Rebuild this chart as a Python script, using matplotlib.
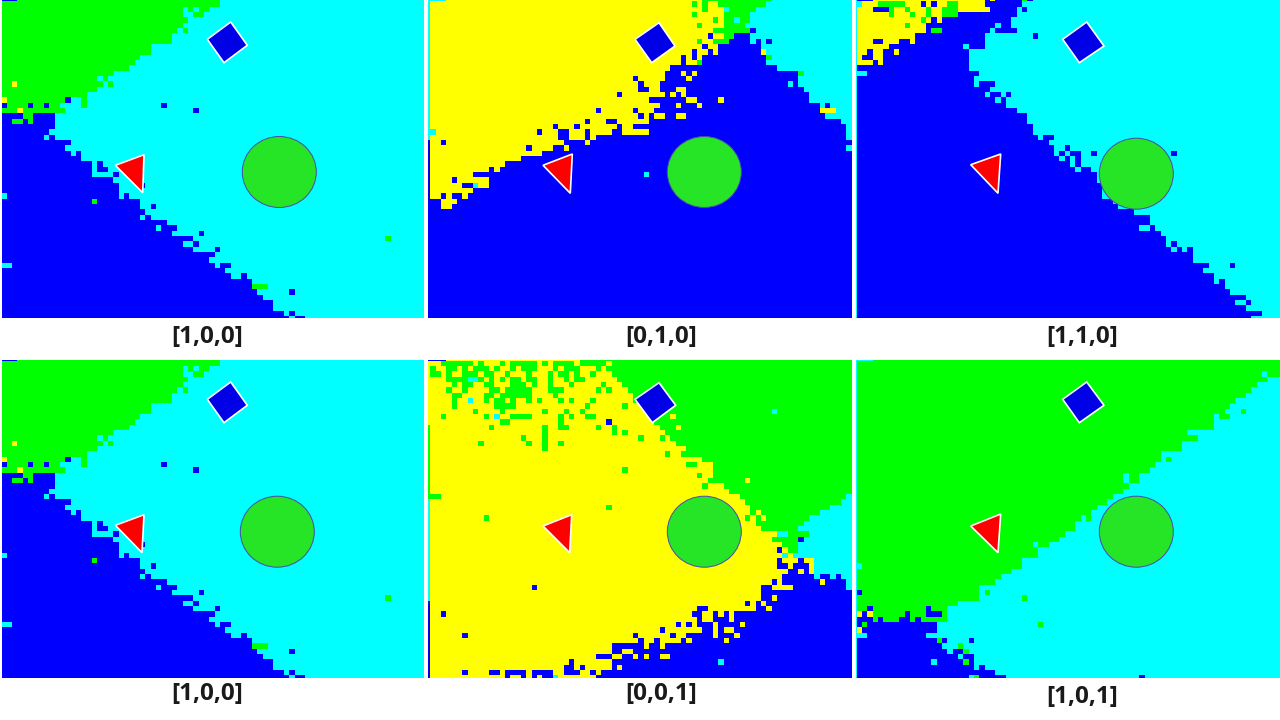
import numpy as np
import matplotlib
matplotlib.use("Agg")
import matplotlib.pyplot as plt
from matplotlib.colors import ListedColormap
from matplotlib.patches import Ellipse, Polygon, Rectangle

# each row: colour letter + column where that colour stops, last one runs to the edge
rows_100 = [
    "B3 G41 C", "G41 C", "G34 C35 G36 C37 G39 C", "G34 C36 G38 C", "G35 C", "G34 C", "G33 C34 G35 C", "G32 C",
    "G32 C", "G28 C", "G28 C", "G26 C", "G25 C", "G24 C", "G21 C", "G18 C19 G20 C", "G2 Y3 G19 C20 G21 C", "G18 C",
    "G16 C", "Y1 G12 B13 C15 G16 C", "B1 G5 B6 G8 B9 G11 C15 G16 C30 B31 C", "G3 Y4 G12 C36 B37 C", "B4 G6 B10 C",
    "B2 G4 B5 G6 B10 C", "B10 C", "B9 C", "B8 C9 B10 C", "B13 C", "B12 C", "B13 C14 B15 C", "B15 C", "B17 C18 B19 C",
    "B17 C18 B20 C", "B17 C21 B22 C", "B21 C", "B22 C26 B27 C", "B22 C", "C1 B22 C23 B24 C", "B17 G18 B26 C",
    "B26 C28 B29 C", "B27 C", "B26 C27 B28 C", "B31 C", "B29 C30 B33 C", "B32 C37 B38 C", "B36 C72 G73 C",
    "B34 C36 B37 C", "B36 C40 B41 C", "B40 C", "B39 C", "C2 B40 C41 B43 C", "B42 C", "B43 C45 B46 C", "B47 C",
    "B47 G50 C", "B48 C54 B55 C", "B49 C", "B51 C", "B51 C", "B53 C54 B55 C", "B54 C55 B57 C",
]
rows_010 = [
    "C4 Y52 G65 C", "C1 Y50 G51 Y52 G53 Y55 G64 C", "C1 Y52 G53 Y56 C57 G62 C", "C1 Y50 G51 Y56 G61 C",
    "C1 Y54 G55 Y56 G58 C59 G61 C", "C1 Y51 G52 Y56 G60 C", "C1 Y54 G61 B62 C", "C1 Y53 B54 Y56 G58 B61 C",
    "C1 Y51 G52 Y54 G57 B61 C62 B63 C64 B65 C", "C1 Y52 B53 Y55 B63 C", "C1 Y50 B51 Y53 B54 Y55 B63 Y64 C",
    "C1 Y48 B49 Y50 B51 Y52 B64 G65 C", "C1 Y48 B49 Y51 G52 B64 C", "C1 Y46 B66 C", "C1 Y45 B48 Y49 B50 Y51 B70 G71 C",
    "C1 Y39 B40 Y45 B49 Y50 B70 C", "C1 Y40 B41 Y44 B68 C69 B70 C", "C1 Y40 B42 Y44 B47 Y49 B71 C",
    "C1 Y36 B37 Y45 B46 Y47 B48 Y49 B72 C", "C1 Y42 B49 Y51 B55 Y56 B72 C", "C1 Y44 B47 Y48 B51 Y52 B74 C75 B76 C",
    "C1 Y32 B33 Y39 B40 Y43 B74 Y77 C", "C1 Y40 B41 Y42 B43 Y45 B47 Y49 B75 C", "C1 Y30 B31 Y34 B36 Y42 B78 C",
    "C1 Y24 B25 Y28 B29 Y36 B37 Y39 B79 C", "C2 Y21 B22 Y25 B27 Y30 B31 Y35 B37 Y42 B79 C",
    "C1 Y25 B27 Y30 B31 Y32 B79 C", "B1 Y3 B4 Y26 B30 Y31 B", "B1 Y19 B20 Y24 B26 Y27 B79 C", "B1 Y22 B", "B1 Y18 B",
    "B1 Y15 B", "B1 Y12 B13 Y14 B", "B1 Y9 B41 C42 B", "B1 Y5 B6 Y12 B", "B1 Y7 B9 C10 Y12 B", "B1 Y9 B",
    "B1 Y3 B4 Y5 B7 Y8 B", "B3 Y6 B", "B3 Y5 B", "B", "B", "B", "B", "B", "B", "B", "B", "B", "B", "B", "B", "B", "B",
    "B", "B", "B", "B", "B", "B", "B",
]
rows_110 = [
    "C1 B4 Y25 B26 Y27 B32 G33 B34 C", "C2 Y5 G10 Y13 B14 Y15 B16 Y18 G20 Y25 B32 C",
    "C1 Y4 B7 G8 Y10 G11 Y14 G15 Y17 G20 Y26 B31 C32 B33 C", "C1 Y7 G8 Y11 G12 Y14 G15 Y17 G20 B31 C",
    "C1 Y13 G14 Y15 B16 Y17 B30 C", "C1 Y10 G11 Y14 B27 C28 B30 C", "C1 Y14 B15 G17 B26 C27 B31 C", "C1 Y12 B25 C34 B35 C",
    "C1 Y4 B6 Y9 B11 Y12 B25 C", "C1 Y7 B21 C22 B25 C", "C1 Y3 B4 Y6 B8 Y9 B22 C", "C1 Y2 B4 Y6 B22 C",
    "C1 Y4 B5 Y6 B22 C", "C1 B22 C", "C3 B24 C", "C1 B23 C", "C1 B23 C24 B27 C", "C1 B26 C", "C1 B25 C26 B28 C29 B30 C",
    "C1 B27 C28 B29 C", "C1 B29 C", "C1 B31 C", "C1 B33 C", "C1 B33 C", "C1 B34 C", "C1 B34 C", "C1 B35 C36 B38 C",
    "C1 B37 C", "C1 B38 C40 B41 C", "C1 B38 C39 B40 C41 B43 C45 B46 C60 B61 C", "C1 B39 C40 B41 C42 B43 C",
    "C1 B41 C42 B43 C", "C1 B42 C43 B45 C", "C1 B46 C", "C1 B46 C", "C1 B47 C", "C1 B47 C", "C1 B47 C", "C1 B49 C",
    "C1 B50 C", "C1 B53 C", "C1 B56 C", "C1 B56 C", "C1 B54 C56 B57 C", "C1 B58 C", "C1 B59 C", "C1 B59 C60 B61 C",
    "C1 B60 C61 B62 C63 B64 C", "C1 B64 C", "C1 B64 C", "C1 B67 C71 B72 C", "C1 B66 C", "C1 B68 C",
    "C1 B68 C69 B70 C", "C1 B70 C", "C1 B71 C", "C1 B74 C", "C1 B72 C74 B75 C", "C1 B74 C", "C1 B77 C", "C1 B75 C",
]
rows_001 = [
    "B4 Y29 G", "Y3 G5 Y5 G9 Y10 G11 Y14 G15 Y16 G21 Y22 G23 Y24 G28 Y29 G34 Y35 G",
    "Y1 G2 Y4 G6 Y7 G8 Y9 G12 Y13 G14 Y16 G17 Y18 G21 Y24 G25 Y26 G29 Y32 G33 Y34 G",
    "Y1 G3 Y4 G5 Y7 G10 Y11 G13 Y15 G16 Y19 G20 Y23 G24 Y25 G27 Y28 G29 Y31 G32 Y35 G",
    "Y4 G8 C10 G11 Y12 G13 Y14 G15 Y16 G18 Y19 G21 Y23 G24 Y26 G27 Y28 G30 Y36 G",
    "Y5 G6 Y7 G9 Y11 G13 Y16 G19 Y20 G21 Y23 G24 Y27 G28 Y33 G34 Y37 G",
    "Y4 G5 Y7 G8 Y12 G14 Y15 G20 Y23 G26 Y32 G33 Y34 G35 Y38 G", "Y5 G7 Y11 G13 Y14 G20 Y24 G25 Y39 G",
    "Y5 G6 Y8 C9 Y11 G12 Y13 G15 Y16 G17 Y19 G20 Y21 G22 Y25 G26 Y27 G28 Y31 G32 Y39 G",
    "Y5 G6 Y13 G17 Y30 G31 Y37 G38 Y41 G", "Y9 G10 Y14 G15 Y22 G23 Y26 G27 Y29 G30 Y42 G65 C66 G",
    "Y3 G4 Y11 G12 Y13 C14 Y16 G20 Y25 G26 Y27 G28 Y30 G32 Y42 G46 Y47 G", "Y14 G16 Y25 G26 Y34 B35 Y43 G",
    "G1 Y12 G13 Y22 G23 Y25 G27 Y32 G33 Y35 G36 Y44 G47 Y48 G", "G1 Y22 G23 Y35 G36 Y37 G38 Y45 G",
    "G1 Y18 G19 Y22 G23 Y40 G41 Y44 G45 Y46 G", "G1 Y10 G11 Y19 G20 Y22 G23 Y25 G26 Y47 G", "G1 Y22 G23 Y49 G",
    "G1 Y45 G46 Y48 G", "G1 Y52 G", "G1 Y49 G51 Y54 G", "G1 Y37 G38 Y54 G", "G1 Y51 G52 Y54 G", "G1 Y53 G60 Y61 G",
    "G1 Y52 G53 Y56 G", "G1 Y57 G", "G3 Y59 G79 C", "C1 Y60 G78 C", "C1 Y34 G35 Y61 G76 C", "C1 Y61 G62 Y63 G74 C",
    "C1 Y11 G12 Y60 G61 Y62 G63 Y64 G72 C", "C1 Y62 G71 C", "C1 Y63 G70 C", "C1 Y66 C67 C68 G72 C", "C1 Y65 G70 B71 C",
    "C1 Y67 G70 C", "C1 Y66 B67 Y68 G70 C", "C1 Y67 C68 Y69 C", "C1 Y66 B67 Y70 B71 Y73 C", "C1 Y66 B68 Y69 B72 Y73 C",
    "C1 Y68 B70 Y71 B72 Y73 C", "C1 Y67 B73 C74 B76 C77 B78 C", "C1 Y65 B66 Y67 B74 Y75 B79 C",
    "C1 Y20 B21 Y63 B65 Y69 B79 C", "C1 Y63 B", "C1 Y63 B65 Y66 B", "B1 Y60 B61 Y62 B63 Y64 B",
    "B1 Y51 B53 Y62 B64 Y65 B", "B1 Y3 B4 Y50 B52 Y54 B55 Y56 B57 Y58 B", "B1 Y51 B52 Y54 B57 Y58 B",
    "B1 Y47 B48 Y49 B50 Y51 B54 Y55 B59 Y60 B", "B1 Y44 B45 Y52 B54 Y55 B56 Y58 B",
    "B1 Y7 B8 Y39 B40 Y46 B47 Y49 B54 Y55 B58 Y59 B", "B1 Y40 B41 Y43 B44 Y48 B49 Y50 B56 Y57 B",
    "B1 Y35 B41 Y42 B44 Y45 B", "B1 Y35 B37 Y39 B", "B1 Y32 B35 Y37 B39 Y40 B41 Y42 B44 Y46 B",
    "B1 Y27 B28 Y35 B55 C56 B", "B1 Y26 B28 Y29 B30 Y35 B36 Y37 B", "B1 Y7 B8 Y12 B14 Y15 B19 Y20 B24 Y26 B29 Y31 B32 Y33 B",
    "B1 Y15 B16 Y18 B19 Y20 B21 Y22 B24 C25 Y32 B",
]
rows_101 = [
    "C4 G", "C1 G", "C1 G", "C1 G77 C78 G", "C1 G78 C", "C1 G76 C", "C1 G75 C", "C1 G74 C", "C1 G72 C", "C1 G71 C",
    "C1 G70 C73 G74 C", "C1 G68 C69 G71 C", "C1 G68 C", "C1 G68 C", "C1 G63 C", "C1 G65 C", "C1 G62 C", "C1 G62 C",
    "C1 G58 C", "C1 G58 C59 G60 C", "C1 G57 C", "C1 G56 C", "C1 G51 C52 G54 C", "C1 G51 C52 G54 C", "C1 G52 C",
    "C1 G51 C", "C1 G49 C", "C1 G48 C", "C1 G46 C", "C1 G45 C", "C1 G43 C44 G45 C", "C1 G42 C", "C1 G42 C", "C1 G40 C",
    "C1 G39 C", "C1 G34 C35 G37 C", "C1 G35 C", "C1 G35 C", "C1 G32 C", "C2 G32 C", "C1 G30 C", "C1 G28 C", "C1 G27 C",
    "C1 G24 C", "C1 B2 G24 C25 G26 C", "C1 G24 C32 G33 C", "C1 G20 C", "C1 G3 B4 G14 B15 G18 C",
    "C1 Y2 B3 Y4 G10 B11 G14 B17 G18 C", "C1 B4 G5 B6 G9 B11 G12 B13 G18 C", "C1 B2 G3 B16 C35 G36 C", "C1 Y2 B16 C",
    "C3 B14 C", "C1 B16 G17 B18 C22 B23 C", "C1 B17 C20 G21 C", "C1 B18 C19 B21 G22 C", "C1 B20 C21 B23 C",
    "C1 B15 C16 B21 G22 B23 C", "C1 B23 C24 B25 C", "C1 B27 C", "C1 B22 C23 G24 B29 C54 B55 C",
]

labels = ["[1,0,0]", "[0,1,0]", "[1,1,0]", "[1,0,0]", "[0,0,1]", "[1,0,1]"]
panel_rows = [rows_100, rows_010, rows_110, rows_100, rows_001, rows_101]

# grid origin and visible box of each panel, in pixels
grid_x = [1.33, 425, 851.33, 1.33, 425, 851.33]
grid_y = [-4, -4, -4, 355.3, 355.3, 355.3]
boxes = [(2, 0, 424, 318), (428, 0, 852, 318), (856, 0, 1280, 318),
         (2, 360, 424, 678), (428, 360, 852, 678), (856, 360, 1280, 678)]
label_x = [207, 661, 1082, 207, 661, 1082]
label_y = [337, 337, 337, 694, 694, 697]

squares = [
    [(230.7, 22), (247.3, 45.3), (224, 62.7), (207.3, 39.3)],
    [(659, 22.7), (675, 46), (651.7, 62.7), (635, 39.3)],
    [(1086.7, 22), (1104, 46), (1079.3, 62.7), (1062.7, 39.3)],
    [(230.7, 382), (247.3, 405.3), (224, 422.7), (207.3, 399.3)],
    [(659, 382.7), (675.7, 405.3), (652.3, 422.7), (635, 399.3)],
    [(1086.7, 382), (1104, 405.3), (1079.3, 422.7), (1062.7, 399.3)],
]
triangles = [
    [(115.3, 165.3), (144, 154.7), (142.7, 192.7)],
    [(543, 165.3), (572.3, 154), (570.3, 193.3)],
    [(970.7, 164.7), (1000.7, 154), (998, 193.3)],
    [(115.3, 525.3), (144, 514.7), (142, 552.7)],
    [(543, 526), (571.7, 514.7), (569.7, 552.7)],
    [(970.7, 526), (1000.7, 514), (998, 552.7)],
]
circles = [(279.3, 172), (704.3, 172), (1136.3, 173.7), (277.3, 531.7), (704.3, 531.7), (1136.3, 531.7)]

codes = {"B": 0, "C": 1, "G": 2, "Y": 3}
cmap = ListedColormap(["#0000ff", "#00ffff", "#00ff00", "#ffff00"])
cell = 16 / 3


def to_grid(rows):
    grid = np.zeros((len(rows), 81))
    for r, row in enumerate(rows):
        start = 0
        for tok in row.split():
            stop = int(tok[1:]) if len(tok) > 1 else 81
            grid[r, start:stop] = codes[tok[0]]
            start = stop
    return grid


fig = plt.figure(figsize=(12.8, 7.2), dpi=100)
ax = fig.add_axes([0, 0, 1, 1])

for i in range(6):
    grid = to_grid(panel_rows[i])
    x0, y0 = grid_x[i], grid_y[i]
    im = ax.imshow(grid, cmap=cmap, vmin=0, vmax=3, aspect="auto", interpolation="nearest",
                   extent=(x0, x0 + 81 * cell, y0 + 61 * cell, y0))
    bx0, by0, bx1, by1 = boxes[i]
    im.set_clip_path(Rectangle((bx0, by0), bx1 - bx0, by1 - by0, transform=ax.transData))

    ax.add_patch(Polygon(squares[i], closed=True, fc="#0000e6", ec="white", lw=1.2, zorder=3))
    ax.add_patch(Polygon(triangles[i], closed=True, fc="#ff0000", ec="white", lw=1.2, zorder=3))
    ax.add_patch(Ellipse(circles[i], 74, 71, fc="#26e426", ec="#4a4aa8", lw=0.7, zorder=3))
    ax.text(label_x[i], label_y[i], labels[i], ha="center", va="center", fontsize=17.5,
            fontweight="bold", family="Open Sans", color="#1a1a1a")

ax.set_xlim(0, 1280)
ax.set_ylim(720, 0)
ax.axis("off")
fig.savefig("out.png", dpi=100, facecolor="white")
